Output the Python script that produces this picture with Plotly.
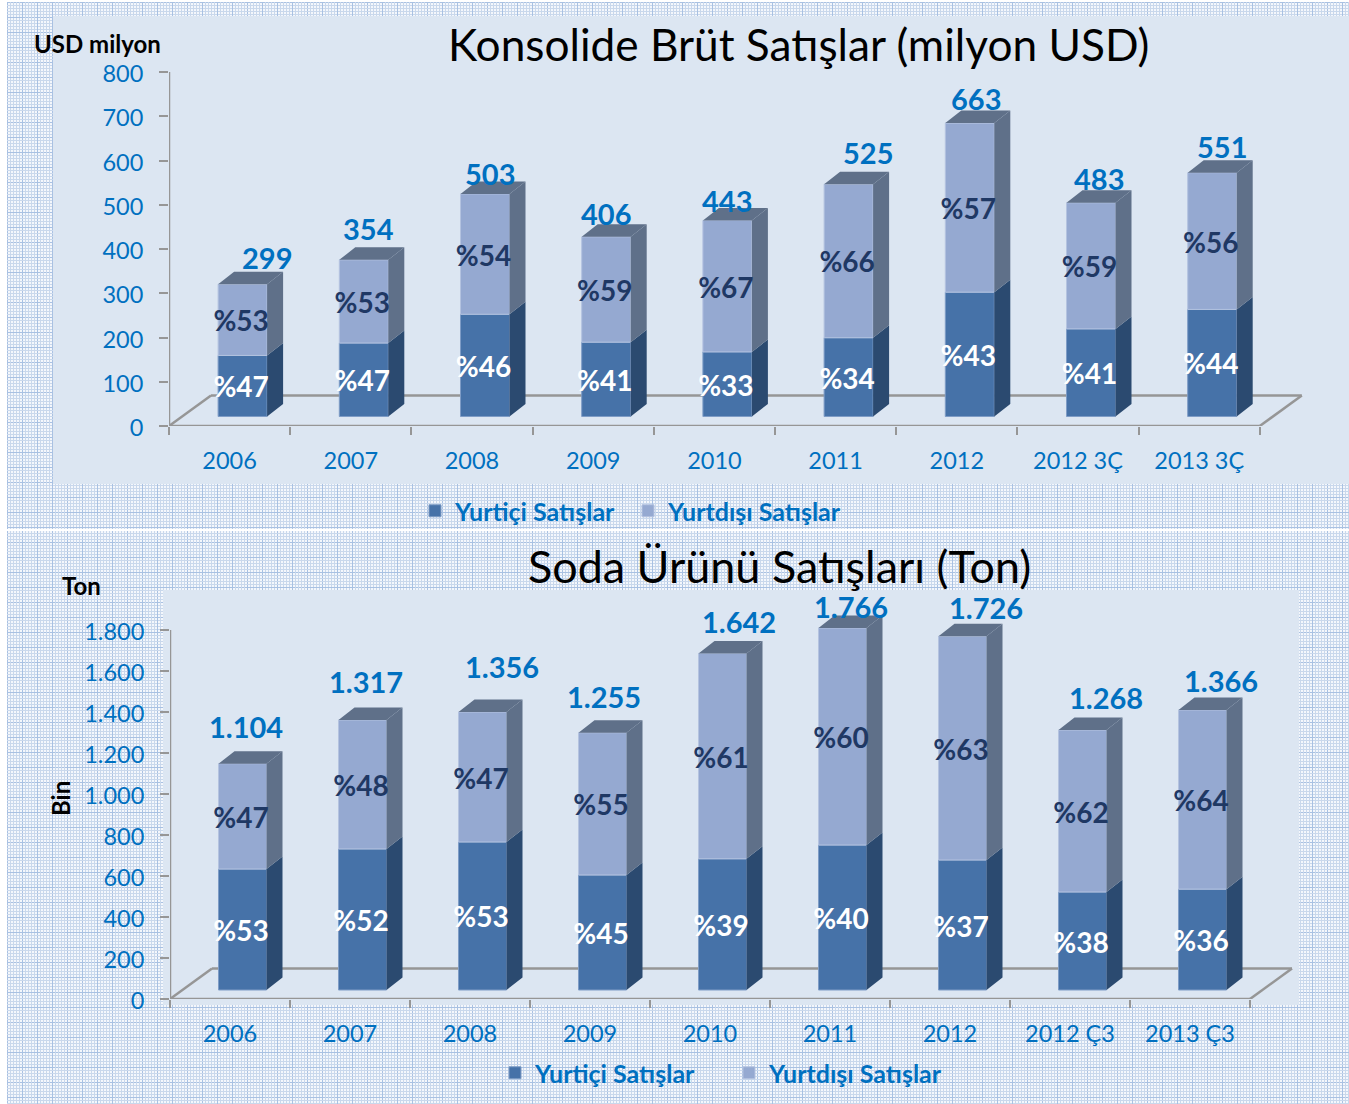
import base64
import plotly.graph_objects as go

W, H = 1349, 1104

# ---- data ----
categories_top = ["2006", "2007", "2008", "2009", "2010", "2011", "2012", "2012 3Ç", "2013 3Ç"]
domestic_top = [138, 166, 231, 168, 146, 178, 281, 198, 242]
foreign_top = [161, 188, 272, 238, 297, 347, 382, 285, 309]
totals_top = ["299", "354", "503", "406", "443", "525", "663", "483", "551"]
pct_dom_top = ["%47", "%47", "%46", "%41", "%33", "%34", "%43", "%41", "%44"]
pct_for_top = ["%53", "%53", "%54", "%59", "%67", "%66", "%57", "%59", "%56"]

categories_bot = ["2006", "2007", "2008", "2009", "2010", "2011", "2012", "2012 Ç3", "2013 Ç3"]
domestic_bot = [590, 688, 722, 561, 640, 707, 634, 478, 492]
foreign_bot = [514, 629, 634, 694, 1002, 1059, 1092, 790, 874]
totals_bot = ["1.104", "1.317", "1.356", "1.255", "1.642", "1.766", "1.726", "1.268", "1.366"]
pct_dom_bot = ["%53", "%52", "%53", "%45", "%39", "%40", "%37", "%38", "%36"]
pct_for_bot = ["%47", "%48", "%47", "%55", "%61", "%60", "%63", "%62", "%64"]

ticks_top = [0, 100, 200, 300, 400, 500, 600, 700, 800]
ticks_bot = [0, 200, 400, 600, 800, 1000, 1200, 1400, 1600, 1800]
ticktext_bot = ["0", "200", "400", "600", "800", "1.000", "1.200", "1.400", "1.600", "1.800"]

# label nudges in pixels (total labels are hand placed in the original)
nudge_top = [(24, 27), (5, 31), (5, 20), (0, 23), (0, 20), (19, 32), (6, 25), (8, 24), (10, 26)]
nudge_bot = [(3, 37), (3, 39), (19, 46), (1, 36), (16, 32), (8, 21), (23, 29), (23, 33), (18, 29)]

# ---- style ----
FONT = "Lato, Carlito, Calibri, sans-serif"
BLUE = "#0070C0"
AXIS = "#969696"
PANEL = "#DCE6F2"
DOM, DOM_SIDE, DOM_EDGE = "#4672A8", "#2B4A70", "#7E9CC6"
FOR, FOR_SIDE, FOR_EDGE = "#95A9D1", "#5F7089", "#B4C3E0"


def px(x):
    return x / W


def py(y):
    return 1 - y / H


# background texture
cells = []
for i in range(0, 60, 3):
    col = "#A9C1E2" if i % 15 == 0 else "#C9D8EC"
    cells.append(f'<rect x="{i}" y="0" width="1" height="60" fill="{col}"/>')
    cells.append(f'<rect x="0" y="{i}" width="60" height="1" fill="{col}"/>')
svg = (
    f'<svg xmlns="http://www.w3.org/2000/svg" width="{W-7}" height="{H-2}">'
    '<defs><pattern id="p" width="60" height="60" patternUnits="userSpaceOnUse">'
    '<rect width="60" height="60" fill="#F4F7FC"/>' + "".join(cells) + "</pattern></defs>"
    f'<rect width="{W-7}" height="{H-2}" fill="url(#p)"/>'
    f'<rect y="527" width="{W-7}" height="2" fill="#FFFFFF"/></svg>'
)
src = "data:image/svg+xml;base64," + base64.b64encode(svg.encode()).decode()

fig = go.Figure()
shapes, annotations = [], []


def poly(points_list):
    xs, ys = [], []
    for pts in points_list:
        for a, b in pts:
            xs.append(a)
            ys.append(b)
        xs.append(pts[0][0])
        ys.append(pts[0][1])
        xs.append(None)
        ys.append(None)
    return xs, ys


def panel(cats, dom, forn, totals, pdom, pfor, nudge, xaxis, yaxis, cfg, legend):
    n = len(cats)
    idx = list(range(n))
    xs = cfg["step"]
    ys = cfg["yscale"]
    base0 = cfg["base_px"] / ys
    left = cfg["bar_left"] / xs
    width = cfg["bar_w"] / xs
    ddx, ddy = 16 / xs, 12.5 / ys
    top_base = [base0 + d for d in dom]
    tops = [base0 + d + f for d, f in zip(dom, forn)]

    common = dict(x=idx, width=width, offset=left, xaxis=xaxis, yaxis=yaxis, hoverinfo="skip",
                  legend=legend, showlegend=True)
    fig.add_trace(go.Bar(name="Yurtiçi Satışlar", y=dom, base=[base0] * n,
                         marker=dict(color=DOM, line=dict(color=DOM_EDGE, width=1)), **common))
    fig.add_trace(go.Bar(name="Yurtdışı Satışlar", y=forn, base=top_base,
                         marker=dict(color=FOR, line=dict(color=FOR_EDGE, width=1)), **common))

    r = [i + left + width for i in idx]
    l = [i + left for i in idx]
    side_dom = [[(r[i], base0), (r[i] + ddx, base0 + ddy), (r[i] + ddx, top_base[i] + ddy), (r[i], top_base[i])] for i in idx]
    side_for = [[(r[i], top_base[i]), (r[i] + ddx, top_base[i] + ddy), (r[i] + ddx, tops[i] + ddy), (r[i], tops[i])] for i in idx]
    top_face = [[(l[i], tops[i]), (l[i] + ddx, tops[i] + ddy), (r[i] + ddx, tops[i] + ddy), (r[i], tops[i])] for i in idx]
    for pts, col in ((side_dom, DOM_SIDE), (side_for, FOR_SIDE), (top_face, FOR_SIDE)):
        a, b = poly(pts)
        fig.add_trace(go.Scatter(x=a, y=b, mode="lines", fill="toself", fillcolor=col, line=dict(width=0),
                                 hoverinfo="skip", showlegend=False, xaxis=xaxis, yaxis=yaxis))

    centers = [i + left + width / 2 for i in idx]
    label_x = [c - 1.5 / xs for c in centers]
    drop = 4.5 / ys  # text baseline correction
    mid_dom = [base0 + d / 2 - drop for d in dom]
    mid_for = [t + f / 2 - drop for t, f in zip(top_base, forn)]
    fig.add_trace(go.Scatter(x=label_x, y=mid_dom, text=pdom, mode="text", cliponaxis=False, hoverinfo="skip",
                             textfont=dict(family=FONT, size=28, color="#FFFFFF", weight="bold"),
                             showlegend=False, xaxis=xaxis, yaxis=yaxis))
    fig.add_trace(go.Scatter(x=label_x, y=mid_for, text=pfor, mode="text", cliponaxis=False, hoverinfo="skip",
                             textfont=dict(family=FONT, size=28, color="#1F3864", weight="bold"),
                             showlegend=False, xaxis=xaxis, yaxis=yaxis))

    for i in idx:
        annotations.append(dict(x=centers[i], y=tops[i], xref=xaxis, yref=yaxis, text=totals[i], showarrow=False,
                                xshift=nudge[i][0], yshift=nudge[i][1], xanchor="center", yanchor="middle",
                                font=dict(family=FONT, size=29, color=BLUE, weight="bold")))

    # floor outline and value axis line
    fx, fy = 42 / xs, 30.5 / ys
    line = dict(color=AXIS, width=2.5)
    for x0, y0, x1, y1 in ((-0.5, 0, n - 0.5, 0),
                           (-0.5, 0, -0.5 + fx, fy),
                           (-0.5 + fx, fy, n - 0.5 + fx, fy),
                           (n - 0.5, 0, n - 0.5 + fx, fy),
                           (-0.5, 0, -0.5, cfg["ymax"])):
        shapes.append(dict(type="line", xref=xaxis, yref=yaxis, x0=x0, y0=y0, x1=x1, y1=y1, line=line, layer="below"))


cfg_top = dict(step=121.2, yscale=354 / 800, base_px=9.5, bar_left=-11.5, bar_w=49, ymax=800)
cfg_bot = dict(step=120.0, yscale=369 / 1800, base_px=9, bar_left=-11.5, bar_w=48, ymax=1800)

panel(categories_top, domestic_top, foreign_top, totals_top, pct_dom_top, pct_for_top, nudge_top, "x", "y", cfg_top, "legend")
panel(categories_bot, domestic_bot, foreign_bot, totals_bot, pct_dom_bot, pct_for_bot, nudge_bot, "x2", "y2", cfg_bot, "legend2")

shapes.insert(0, dict(type="rect", xref="paper", yref="paper", x0=px(53), x1=px(W), y0=py(16), y1=py(484),
                      fillcolor=PANEL, line=dict(width=0), layer="below"))
shapes.insert(1, dict(type="rect", xref="paper", yref="paper", x0=px(163), x1=px(1299), y0=py(590), y1=py(1005),
                      fillcolor=PANEL, line=dict(width=0), layer="below"))


def text(x, y, s, size, bold=False, color="#000000", angle=0):
    annotations.append(dict(x=px(x), y=py(y), xref="paper", yref="paper", text=s, showarrow=False, textangle=angle,
                            xanchor="center", yanchor="middle",
                            font=dict(family=FONT, size=size, color=color, weight="bold" if bold else "normal")))


text(798, 43.5, "Konsolide Brüt Satışlar (milyon USD)", 44.2)
text(779, 566, "Soda Ürünü Satışları (Ton)", 44.9)
text(97, 44, "USD milyon", 24, True)
text(81, 585, "Ton", 24, True)
text(60, 799, "Bin", 24, True, angle=-90)


def xax(cats, x0, x1, step):
    n = len(cats)
    return dict(domain=[px(x0), px(x1)], range=[-0.5, (x1 - x0) / step - 0.5], tickmode="array",
                tickvals=list(range(n)), ticktext=cats, ticks="", showgrid=False, showline=False, zeroline=False,
                tickfont=dict(family=FONT, size=23.5, color=BLUE), ticklabelstandoff=18,
                minor=dict(tickmode="array", tickvals=[i - 0.5 for i in range(n + 1)], ticks="outside",
                           ticklen=8, tickwidth=2, tickcolor=AXIS, showgrid=False))


def yax(vals, txt, y0, scale, rng):
    y1 = y0 - rng * scale
    return dict(domain=[py(y0), py(y1)], range=[0, rng], tickmode="array", tickvals=vals, ticktext=txt,
                ticks="outside", ticklen=9, tickwidth=2, tickcolor=AXIS, showgrid=False, zeroline=False,
                showline=False, ticklabelstandoff=11, ticklabelshift=2,
                tickfont=dict(family=FONT, size=23.5, color=BLUE))


leg = dict(orientation="h", bgcolor="rgba(0,0,0,0)", xanchor="left", yanchor="middle", itemclick=False,
           itemdoubleclick=False, entrywidthmode="pixels", traceorder="normal", borderwidth=0,
           font=dict(family=FONT, size=25, color=BLUE, weight="bold"))

fig.update_layout(
    width=W, height=H, autosize=False, margin=dict(l=0, r=0, t=0, b=0, autoexpand=False),
    paper_bgcolor="#FFFFFF", plot_bgcolor="rgba(0,0,0,0)", barmode="overlay",
    xaxis=dict(**xax(categories_top, 169, 1310, 121.2), anchor="y"),
    yaxis=dict(**yax(ticks_top, [str(v) for v in ticks_top], 426, 354 / 800, 800), anchor="x"),
    xaxis2=dict(**xax(categories_bot, 170, 1300, 120.0), anchor="y2"),
    yaxis2=dict(**yax(ticks_bot, ticktext_bot, 999, 369 / 1800, 1900), anchor="x2"),
    legend=dict(**leg, x=px(415), y=py(511), entrywidth=168),
    legend2=dict(**leg, x=px(495), y=py(1073), entrywidth=189),
    shapes=shapes, annotations=annotations,
    images=[dict(source=src, xref="paper", yref="paper", x=px(7), y=py(2), sizex=px(W - 7), sizey=(H - 2) / H,
                 sizing="stretch", xanchor="left", yanchor="top", layer="below")],
)

fig.write_html("out.html", post_script="document.body.style.margin='0';document.body.style.overflow='hidden';",
               config={"displayModeBar": False})
